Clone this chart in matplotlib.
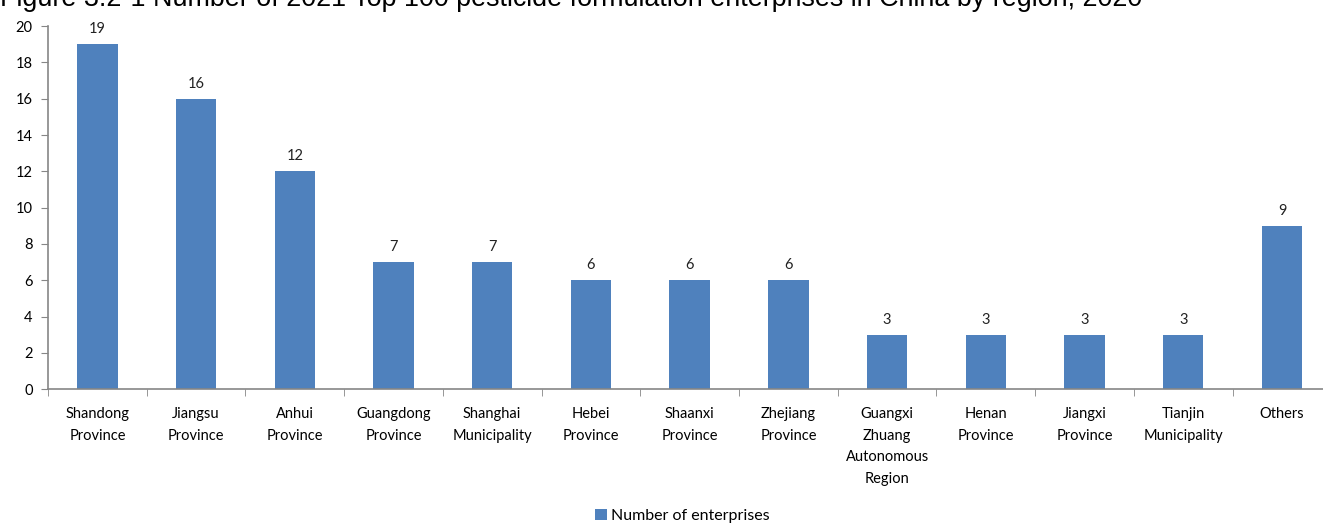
import numpy as np
import matplotlib
matplotlib.use('Agg')
from matplotlib import pyplot as plt
from matplotlib.ticker import FixedLocator

# --- data ---
regions = ['Shandong\nProvince', 'Jiangsu\nProvince', 'Anhui\nProvince', 'Guangdong\nProvince',
           'Shanghai\nMunicipality', 'Hebei\nProvince', 'Shaanxi\nProvince', 'Zhejiang\nProvince',
           'Guangxi\nZhuang\nAutonomous\nRegion', 'Henan\nProvince', 'Jiangxi\nProvince',
           'Tianjin\nMunicipality', 'Others']
counts = [19, 16, 12, 7, 7, 6, 6, 6, 3, 3, 3, 3, 9]
y_ticks = [0, 2, 4, 6, 8, 10, 12, 14, 16, 18, 20]

TITLE = 'Figure 3.2-1 Number of 2021 Top 100 pesticide formulation enterprises in China by region, 2020'
BAR_COLOR = '#4F81BD'
AXIS_COLOR = '#868686'
TEXT_FONT = 'Lato'

fig = plt.figure(figsize=(13.23, 5.23), dpi=100)
# plot area runs a little past the right edge, as in the source
ax = fig.add_axes([0.0363, 0.256, 0.970, 0.694])

x = np.arange(len(regions))
ax.bar(x, counts, width=0.41, color=BAR_COLOR, label='Number of enterprises', zorder=2)

for xi, v in zip(x, counts):
    ax.text(xi, v + 0.45, str(v), ha='center', va='bottom', fontsize=10.5,
            family=TEXT_FONT, color='#222222')

ax.set_xlim(-0.5, len(regions) - 0.5)
ax.set_ylim(0, 20)
ax.set_yticks(y_ticks)
ax.set_yticklabels([str(t) for t in y_ticks], family=TEXT_FONT, fontsize=10.5)

ax.set_xticks(x)
ax.set_xticklabels(regions, family=TEXT_FONT, fontsize=10.5, linespacing=1.68, va='top')
ax.xaxis.set_minor_locator(FixedLocator(np.arange(-0.5, len(regions), 1.0)))
ax.tick_params(axis='x', which='major', length=0, pad=13)
ax.tick_params(axis='x', which='minor', length=5, color=AXIS_COLOR, direction='out')
ax.tick_params(axis='y', length=5, color=AXIS_COLOR, direction='out', pad=6)

for side in ['top', 'right']:
    ax.spines[side].set_visible(False)
for side in ['left', 'bottom']:
    ax.spines[side].set_color(AXIS_COLOR)
    ax.spines[side].set_linewidth(1.2)

leg = fig.legend(loc='center', bbox_to_anchor=(0.516, 0.014), frameon=False,
                 prop={'family': TEXT_FONT, 'size': 11.5}, handlelength=0.7,
                 handleheight=0.7, handletextpad=0.3)

# the source image crops the top of the title; keep the same placement
fig.text(0.0, 1 - 6 / 523, TITLE, family='Liberation Sans', fontsize=19.4,
         ha='left', va='baseline', color='black')

plt.savefig('out.png', dpi=100)
plt.close(fig)
